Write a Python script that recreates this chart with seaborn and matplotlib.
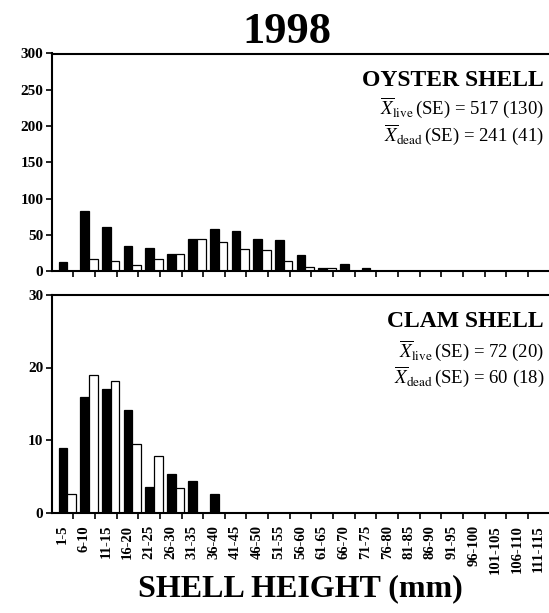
import numpy as np
import pandas as pd
import matplotlib
matplotlib.use("Agg")
import matplotlib.pyplot as plt
import seaborn as sns

sns.set_style("ticks")
plt.rcParams['font.family'] = ['Liberation Serif', 'DejaVu Serif']
plt.rcParams['mathtext.fontset'] = 'stix'
for k in ['text.color', 'axes.labelcolor', 'xtick.color', 'ytick.color', 'axes.edgecolor']:
    plt.rcParams[k] = 'black'

categories = ["1-5", "6-10", "11-15", "16-20", "21-25", "26-30", "31-35", "36-40",
              "41-45", "46-50", "51-55", "56-60", "61-65", "66-70", "71-75", "76-80",
              "81-85", "86-90", "91-95", "96-100", "101-105", "106-110", "111-115"]

oyster_live = [13, 83, 61, 35, 32, 23, 44, 58, 55, 44, 43, 22, 4, 9, 4, 0,
               0, 0, 0, 0, 0, 0, 0]
oyster_dead = [0, 17, 14, 8, 17, 24, 44, 40, 31, 29, 14, 6, 4, 0, 0, 0,
               0, 0, 0, 0, 0, 0, 0]

clam_live = [8.9, 16.0, 17.0, 14.2, 3.5, 5.3, 4.4, 2.6, 0, 0, 0, 0, 0, 0, 0, 0,
             0, 0, 0, 0, 0, 0, 0]
clam_dead = [2.5, 19.0, 18.1, 9.4, 7.8, 3.4, 0, 0, 0, 0, 0, 0, 0, 0, 0, 0,
             0, 0, 0, 0, 0, 0, 0]

status = ["live", "dead"]

oyster_yticks = [0, 50, 100, 150, 200, 250, 300]
clam_yticks = [0, 10, 20, 30]

title_text = "1998"
xlabel_text = "SHELL HEIGHT (mm)"
oyster_label = "OYSTER SHELL"
clam_label = "CLAM SHELL"
oyster_stats = [r"$\overline{X}_{\mathrm{live}}\,$(SE) = 517 (130)",
                r"$\overline{X}_{\mathrm{dead}}\,$(SE) = 241 (41)"]
clam_stats = [r"$\overline{X}_{\mathrm{live}}\,$(SE) = 72 (20)",
              r"$\overline{X}_{\mathrm{dead}}\,$(SE) = 60 (18)"]


def long_df(live, dead):
    return pd.DataFrame({
        "size": categories * 2,
        "count": list(live) + list(dead),
        "status": ["live"] * len(categories) + ["dead"] * len(categories),
    })


W, H = 549, 613
fig = plt.figure(figsize=(W / 100, H / 100), dpi=100)
left = 51.7 / W
width = (549.5 - 51.7) / W
ax1 = fig.add_axes([left, 1 - 271 / H, width, (271 - 53.5) / H])
ax2 = fig.add_axes([left, 1 - 512.5 / H, width, (512.5 - 295) / H])

shift = 0.22
n = len(categories)
for ax, live, dead, yt in [(ax1, oyster_live, oyster_dead, oyster_yticks),
                           (ax2, clam_live, clam_dead, clam_yticks)]:
    sns.barplot(data=long_df(live, dead), x="size", y="count", hue="status",
                order=categories, hue_order=status,
                palette={"live": "black", "dead": "white"},
                edgecolor="black", linewidth=0.9, width=0.8,
                legend=False, ax=ax)
    ax.set_xlim(-0.5 - shift, n - 0.5 - shift)
    ax.set_ylim(yt[0], yt[-1])
    ax.set_yticks(yt)
    ax.set_yticklabels([str(v) for v in yt], fontsize=11, fontweight="bold")
    ax.set_xticks(np.arange(n) - shift)
    ax.set_xticks(np.arange(n) + 0.5 - shift, minor=True)
    ax.tick_params(axis="x", which="major", length=0, pad=9)
    ax.tick_params(axis="x", which="minor", length=4, width=1.2, direction="out")
    ax.tick_params(axis="y", length=4, width=1.2, direction="out", pad=2)
    ax.set_ylabel("")
    ax.set_xlabel("")
    for s in ["left", "bottom", "top"]:
        ax.spines[s].set_linewidth(1.5)
        ax.spines[s].set_visible(True)
    ax.spines["right"].set_visible(False)

ax1.set_xticklabels([])
ax2.set_xticklabels(categories, rotation=90, fontsize=10.5, fontweight="bold",
                    va="top", ha="center")
ax2.set_xlabel(xlabel_text, fontsize=23, fontweight="bold", labelpad=0)

fig.text(286.5 / W, 1 - 43 / H, title_text, fontsize=32, fontweight="bold",
         ha="center", va="baseline")

xr = 544 / W
fig.text(xr, 1 - 86 / H, oyster_label, fontsize=17, fontweight="bold",
         ha="right", va="baseline")
fig.text(xr, 1 - 114 / H, oyster_stats[0], fontsize=13.5, ha="right", va="baseline")
fig.text(xr, 1 - 141 / H, oyster_stats[1], fontsize=13.5, ha="right", va="baseline")

fig.text(xr, 1 - 327 / H, clam_label, fontsize=17, fontweight="bold",
         ha="right", va="baseline")
fig.text(xr, 1 - 357 / H, clam_stats[0], fontsize=13.5, ha="right", va="baseline")
fig.text(xr, 1 - 383 / H, clam_stats[1], fontsize=13.5, ha="right", va="baseline")

fig.savefig("out.png", dpi=100)
